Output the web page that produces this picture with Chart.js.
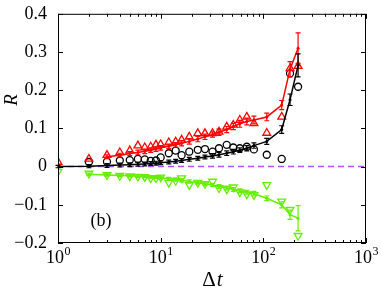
<!DOCTYPE html>
<html>
<head>
<meta charset="utf-8">
<script src="https://cdn.jsdelivr.net/npm/chart.js@4.4.1/dist/chart.umd.min.js"></script>
<style>
    body { margin: 0; background: #fff; }
    #wrap { width: 382px; height: 290px; }
</style>
</head>
<body>
<div id="wrap"><canvas id="rChart" width="382" height="290"></canvas></div>
<script>
// Data
const deltaT = [1, 2, 3, 4, 5, 6, 7, 8, 9, 10, 12, 14, 16, 19, 23, 27, 32, 37, 44, 51, 59, 69, 81, 108, 151, 182, 218];

const redLine = [null, null, 0.026, 0.030, 0.034, 0.037, 0.040, 0.043, 0.046, 0.049, 0.053, 0.057, 0.061, 0.066, 0.072, 0.078, 0.084, 0.090, 0.097, 0.105, 0.112, 0.118, 0.122, 0.130, 0.161, 0.255, 0.310];
const redErr = [null, null, 0.005, 0.005, 0.005, 0.006, 0.006, 0.006, 0.006, 0.006, 0.006, 0.006, 0.007, 0.007, 0.007, 0.007, 0.007, 0.008, 0.008, 0.008, 0.009, 0.009, 0.010, 0.010, 0.012, 0.020, 0.040];
const redTri = [0.012, 0.020, 0.030, 0.037, 0.042, 0.055, 0.050, 0.052, 0.057, 0.058, 0.063, 0.065, 0.070, 0.078, 0.087, 0.087, 0.087, 0.091, 0.104, 0.109, 0.122, 0.130, 0.113, 0.088, 0.130, 0.257, 0.263];

const blackLine = [0.000, 0.001, 0.003, 0.004, 0.005, 0.006, 0.007, 0.008, 0.009, 0.010, 0.012, 0.014, 0.016, 0.019, 0.022, 0.025, 0.028, 0.031, 0.035, 0.039, 0.043, 0.048, 0.055, 0.066, 0.097, 0.175, 0.265];
const blackErr = [0.003, 0.004, 0.005, 0.005, 0.005, 0.005, 0.005, 0.005, 0.005, 0.005, 0.005, 0.005, 0.005, 0.005, 0.005, 0.005, 0.006, 0.006, 0.006, 0.006, 0.006, 0.007, 0.007, 0.008, 0.010, 0.015, 0.030];
const blackCirc = [null, 0.012, 0.013, 0.016, 0.017, 0.020, 0.019, 0.015, 0.016, 0.024, 0.035, 0.042, 0.030, 0.039, 0.044, 0.046, 0.039, 0.048, 0.057, 0.050, 0.048, 0.052, 0.045, 0.031, 0.020, 0.244, 0.209];

const greenLine = [null, -0.020, -0.022, -0.023, -0.024, -0.025, -0.026, -0.027, -0.028, -0.029, -0.032, -0.034, -0.036, -0.039, -0.042, -0.045, -0.048, -0.052, -0.056, -0.060, -0.063, -0.067, -0.071, -0.083, -0.100, -0.126, -0.135];
const greenErr = [null, 0.003, 0.003, 0.003, 0.003, 0.003, 0.003, 0.003, 0.003, 0.004, 0.004, 0.004, 0.004, 0.004, 0.004, 0.004, 0.004, 0.005, 0.005, 0.005, 0.005, 0.005, 0.006, 0.006, 0.008, 0.012, 0.033];
const greenTri = [-0.013, -0.018, -0.022, -0.024, -0.025, -0.026, -0.027, -0.030, -0.030, -0.028, -0.042, -0.037, -0.030, -0.048, -0.042, -0.045, -0.039, -0.056, -0.059, -0.054, -0.067, -0.072, -0.074, -0.048, -0.091, -0.113, -0.181];

const yTicks = [-0.2, -0.1, 0, 0.1, 0.2, 0.3, 0.4];
const xTicks = [1, 10, 100, 1000];
const xTickExp = ['0', '1', '2', '3'];

const RED = '#ff0000';
const BLACK = '#000000';
const GREEN = '#66ee00';
const PURPLE = '#b84cff';
const SERIF = '"Liberation Serif", "Times New Roman", serif';

function toPoints(ys) {
    return deltaT.map((t, i) => ({ x: t, y: ys[i] }));
}

function lineSet(ys, errs, color) {
    return {
        data: toPoints(ys),
        errors: errs,
        borderColor: color,
        backgroundColor: color,
        borderWidth: 1.5,
        pointRadius: 1.5,
        pointBorderWidth: 0,
        showLine: true,
        spanGaps: false,
        tension: 0
    };
}

function markerSet(ys, color, style, rot, radius) {
    return {
        data: toPoints(ys),
        borderColor: color,
        backgroundColor: 'rgba(0,0,0,0)',
        borderWidth: 1.3,
        pointStyle: style,
        pointRotation: rot,
        pointRadius: radius,
        showLine: false
    };
}

// error bars drawn from the library's y scale
const errorBars = {
    id: 'errorBars',
    afterDatasetsDraw(chart) {
        const ctx = chart.ctx;
        const ys = chart.scales.y;
        chart.data.datasets.forEach((ds, di) => {
            if (!ds.errors) return;
            const meta = chart.getDatasetMeta(di);
            meta.data.forEach((pt, i) => {
                const v = ds.data[i].y;
                const e = ds.errors[i];
                if (v === null || e === null) return;
                const top = ys.getPixelForValue(v + e);
                const bot = ys.getPixelForValue(v - e);
                ctx.save();
                ctx.strokeStyle = ds.borderColor;
                ctx.lineWidth = 1.2;
                ctx.beginPath();
                ctx.moveTo(pt.x, top); ctx.lineTo(pt.x, bot);
                ctx.moveTo(pt.x - 2.5, top); ctx.lineTo(pt.x + 2.5, top);
                ctx.moveTo(pt.x - 2.5, bot); ctx.lineTo(pt.x + 2.5, bot);
                ctx.stroke();
                ctx.restore();
            });
        });
    }
};

// box, inward ticks, superscript tick labels, axis titles
const frame = {
    id: 'frame',
    afterDraw(chart) {
        const ctx = chart.ctx;
        const a = chart.chartArea;
        const xs = chart.scales.x;
        const ys = chart.scales.y;
        ctx.save();
        ctx.strokeStyle = '#000';
        ctx.lineWidth = 1;
        ctx.strokeRect(a.left + 0.5, a.top + 0.5, a.right - a.left - 1, a.bottom - a.top - 1);

        ctx.beginPath();
        xTicks.forEach((t, k) => {
            const px = Math.round(xs.getPixelForValue(t)) + 0.5;
            ctx.moveTo(px, a.bottom); ctx.lineTo(px, a.bottom - 5);
            ctx.moveTo(px, a.top); ctx.lineTo(px, a.top + 5);
            if (k < xTicks.length - 1) {
                for (let m = 2; m <= 9; m++) {
                    const mx = Math.round(xs.getPixelForValue(t * m)) + 0.5;
                    ctx.moveTo(mx, a.bottom); ctx.lineTo(mx, a.bottom - 3);
                    ctx.moveTo(mx, a.top); ctx.lineTo(mx, a.top + 3);
                }
            }
        });
        yTicks.forEach(v => {
            const py = Math.round(ys.getPixelForValue(v)) + 0.5;
            ctx.moveTo(a.left, py); ctx.lineTo(a.left + 5, py);
            ctx.moveTo(a.right, py); ctx.lineTo(a.right - 5, py);
        });
        ctx.stroke();

        // x tick labels 10^n
        ctx.fillStyle = '#000';
        ctx.textBaseline = 'alphabetic';
        ctx.textAlign = 'left';
        xTicks.forEach((t, k) => {
            const px = xs.getPixelForValue(t);
            ctx.font = '18px ' + SERIF;
            const w1 = ctx.measureText('10').width;
            ctx.font = '12px ' + SERIF;
            const w2 = ctx.measureText(xTickExp[k]).width;
            const x0 = px - (w1 + w2) / 2;
            ctx.font = '18px ' + SERIF;
            ctx.fillText('10', x0, 263);
            ctx.font = '12px ' + SERIF;
            ctx.fillText(xTickExp[k], x0 + w1 + 0.5, 255);
        });

        // x title
        ctx.font = '21px ' + SERIF;
        const wD = ctx.measureText('\u0394').width;
        ctx.font = 'italic 21px ' + SERIF;
        const wT = ctx.measureText('t').width;
        const cx = (a.left + a.right) / 2 - (wD + wT) / 2;
        ctx.font = '21px ' + SERIF;
        ctx.fillText('\u0394', cx, 286);
        ctx.font = 'italic 21px ' + SERIF;
        ctx.fillText('t', cx + wD + 1, 286);

        // y title
        ctx.save();
        ctx.translate(12, 100);
        ctx.rotate(-Math.PI / 2);
        ctx.textAlign = 'center';
        ctx.textBaseline = 'middle';
        ctx.font = 'italic 19px ' + SERIF;
        ctx.fillText('R', 0, 0);
        ctx.restore();

        // panel label
        ctx.textAlign = 'center';
        ctx.textBaseline = 'middle';
        ctx.font = '18px ' + SERIF;
        ctx.fillText('(b)', 101, 221);
        ctx.restore();
    }
};

new Chart(document.getElementById('rChart').getContext('2d'), {
    type: 'line',
    data: {
        datasets: [
            lineSet(redLine, redErr, RED),
            lineSet(blackLine, blackErr, BLACK),
            lineSet(greenLine, greenErr, GREEN),
            markerSet(redTri, RED, 'triangle', 0, 4.5),
            markerSet(blackCirc, BLACK, 'circle', 0, 3.5),
            markerSet(greenTri, GREEN, 'triangle', 180, 4.5),
            {
                data: [{ x: 1, y: 0 }, { x: 1000, y: 0 }],
                borderColor: PURPLE,
                borderWidth: 1.5,
                borderDash: [6, 4],
                pointRadius: 0,
                showLine: true
            }
        ]
    },
    options: {
        responsive: false,
        animation: false,
        layout: { padding: { left: 0, right: 16, top: 13, bottom: 0 } },
        plugins: { legend: { display: false }, tooltip: { enabled: false } },
        scales: {
            x: {
                type: 'logarithmic',
                min: 1,
                max: 1000,
                grid: { display: false },
                border: { display: false },
                ticks: { display: false },
                afterFit: s => { s.height = 47; }
            },
            y: {
                min: -0.2,
                max: 0.4,
                grid: { display: false },
                border: { display: false },
                afterBuildTicks: s => { s.ticks = yTicks.map(v => ({ value: v })); },
                ticks: {
                    color: '#000',
                    padding: 3,
                    font: { family: SERIF, size: 18 },
                    callback: v => (v === 0 ? '0' : v.toFixed(1).replace('-', '\u2212'))
                },
                afterFit: s => { s.width = 58; }
            }
        }
    },
    plugins: [errorBars, frame]
});
</script>
</body>
</html>
